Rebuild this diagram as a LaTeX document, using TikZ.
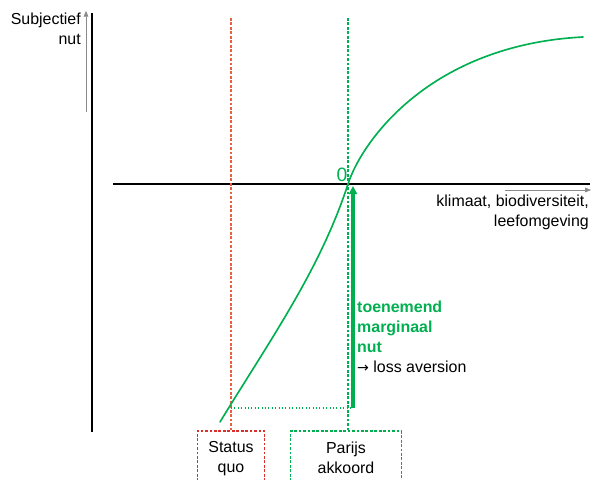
\documentclass[tikz,border=0pt]{standalone}
\usepackage{fontspec}
\setmainfont{Liberation Sans}
\newfontfamily\arrowfont{DejaVu Sans}
\usetikzlibrary{arrows.meta, positioning}
\definecolor{pgreen}{HTML}{00B050}
\definecolor{sqred}{HTML}{D9302B}
\definecolor{sqline}{HTML}{E8603F}
\definecolor{axgray}{HTML}{8A8A8A}

\tikzset{
  lbl/.style={font=\fontsize{13.6}{17}\selectfont, inner sep=0pt},
  optbox/.style={lbl, anchor=north, minimum height=1.62cm, align=center},
  guide/.style={dash pattern=on 2.4pt off 1.4pt, line width=0.9pt},
  boxline/.style={dash pattern=on 2.4pt off 1.4pt, line width=1pt}
}

\begin{document}
\begin{tikzpicture}[x=0.03cm, y=-0.03cm]

\path[use as bounding box] (0,0) rectangle (594,479);
\clip (0,0) rectangle (594,479);

% Axes
\draw[black, line width=1.5pt] (92,13) -- (92,432);
\draw[black, line width=1.1pt] (113,184) -- (590,184);
\draw[axgray, line width=0.6pt, -{Triangle[length=5pt, width=4pt]}, shorten >=-1pt]
  (86,112) coordinate (yfoot) -- (86,12) coordinate (ytip);
\draw[axgray, line width=0.6pt, -{Triangle[length=5pt, width=4pt]}]
  (505,190) coordinate (xfoot) -- (591,190) coordinate (xtip);

\node[lbl, align=right, anchor=north east] (ylabel) at (81,13) {Subjectief\\nut};
\node[lbl, align=right, anchor=north east] (xlabel) at (589,195)
  {klimaat, biodiversiteit,\\leefomgeving};

% Status quo / Parijs akkoord
\node[optbox, minimum width=2.01cm] (sq) at (231,431) {Status\\quo};
\node[optbox, minimum width=3.3cm] (pa) at (346,431) {Parijs\\akkoord};
\draw[boxline, sqred] (sq.south west) -- (sq.north west) -- (sq.north east) -- (sq.south east);
\draw[boxline, pgreen] (pa.south west) -- (pa.north west) -- (pa.north east) -- (pa.south east);

\coordinate (sqtop) at (231,18);
\coordinate (patop) at (348,18);
\draw[guide, sqline] (sqtop) -- (sq.north -| sqtop);
\draw[guide, pgreen] (patop) -- (pa.north -| patop);

% Utility curve
\coordinate (origin) at (348,184);
\draw[pgreen, line width=1.4pt, line cap=round]
  (220,422) .. controls (270,340) and (320,270) .. (origin)
  .. controls (362,141) and (430,45) .. (583,37);

\node[font=\fontsize{16.5}{18}\selectfont, text=pgreen, inner sep=0pt] (zero) at (342,175) {0};

% Marginal utility
\coordinate (sqfoot) at (231,408);
\coordinate (pafoot) at (353,408);
\coordinate (patip) at (353,186);
\draw[pgreen, line width=0.9pt, dotted] (sqfoot) -- (pafoot);
\draw[pgreen, line width=3pt, -{Triangle[length=7pt, width=7pt]}] (pafoot) -- (patip);

\node[lbl, align=left, anchor=north west] (gain) at (357,301)
  {\textcolor{pgreen}{\bfseries toenemend}\\
   \textcolor{pgreen}{\bfseries marginaal}\\
   \textcolor{pgreen}{\bfseries nut}\\
   {\arrowfont\fontsize{12}{17}\selectfont →} loss aversion};

\end{tikzpicture}
\end{document}
